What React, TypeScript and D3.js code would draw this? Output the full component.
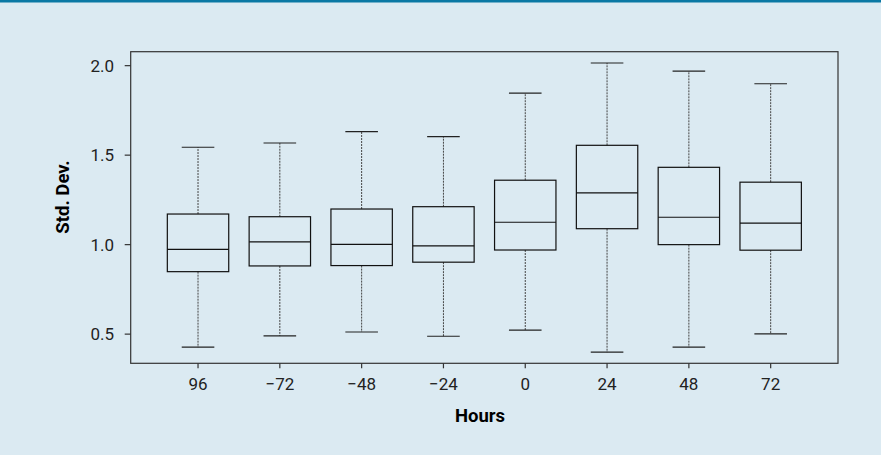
import React from "react";
import * as d3 from "d3";

const categories = ["96", "\u221272", "\u221248", "\u221224", "0", "24", "48", "72"];
const whiskerLow = [0.427, 0.49, 0.512, 0.488, 0.522, 0.399, 0.427, 0.501];
const q1 = [0.849, 0.881, 0.883, 0.902, 0.97, 1.089, 1.0, 0.969];
const median = [0.974, 1.015, 1.002, 0.993, 1.125, 1.289, 1.153, 1.12];
const q3 = [1.171, 1.156, 1.199, 1.212, 1.36, 1.555, 1.432, 1.349];
const whiskerHigh = [1.544, 1.568, 1.631, 1.603, 1.847, 2.015, 1.97, 1.899];
const yTicks = [0.5, 1.0, 1.5, 2.0];

const W = 881;
const H = 455;
const left = 130.7;
const right = 838;
const top = 51.7;
const bottom = 363.3;
const FONT = "Roboto, 'Open Sans', sans-serif";

export default function App() {
  const x = d3.scalePoint<string>().domain(categories).range([left, right]).padding(0.823);
  const y = d3.scaleLinear().domain([0.337, 2.078]).range([bottom, top]);
  const boxW = 61.4;
  const capW = 32.6;
  const data = categories.map((c, i) => ({
    c,
    lo: whiskerLow[i],
    q1: q1[i],
    med: median[i],
    q3: q3[i],
    hi: whiskerHigh[i],
  }));
  return (
    <svg width={W} height={H} style={{ position: "absolute", left: 0, top: 0, display: "block" }}>
      <rect x={0} y={0} width={W} height={H} fill="#dbeaf2" />
      <rect x={0} y={0} width={W} height={2.5} fill="#0a78a4" />
      {data.map((d) => {
        const cx = x(d.c)!;
        return (
          <g key={d.c}>
            <line x1={cx} x2={cx} y1={y(d.q3)} y2={y(d.hi)} stroke="#444" strokeWidth={1} strokeDasharray="2,1" />
            <line x1={cx} x2={cx} y1={y(d.q1)} y2={y(d.lo)} stroke="#444" strokeWidth={1} strokeDasharray="2,1" />
            <line x1={cx - capW / 2} x2={cx + capW / 2} y1={y(d.hi)} y2={y(d.hi)} stroke="#222" strokeWidth={1.2} />
            <line x1={cx - capW / 2} x2={cx + capW / 2} y1={y(d.lo)} y2={y(d.lo)} stroke="#222" strokeWidth={1.2} />
            <rect x={cx - boxW / 2} y={y(d.q3)} width={boxW} height={y(d.q1) - y(d.q3)} fill="none" stroke="#111" strokeWidth={1.2} />
            <line x1={cx - boxW / 2} x2={cx + boxW / 2} y1={y(d.med)} y2={y(d.med)} stroke="#111" strokeWidth={1.2} />
          </g>
        );
      })}
      <rect x={left} y={top} width={right - left} height={bottom - top} fill="none" stroke="#333" strokeWidth={1.2} />
      {yTicks.map((t) => (
        <g key={t}>
          <line x1={left - 6} x2={left} y1={y(t)} y2={y(t)} stroke="#333" strokeWidth={1.2} />
          <text x={114} y={y(t)} dy="0.36em" textAnchor="end" fontFamily={FONT} fontSize={17} fill="#222">
            {t.toFixed(1)}
          </text>
        </g>
      ))}
      {categories.map((c) => (
        <g key={c}>
          <line x1={x(c)!} x2={x(c)!} y1={bottom} y2={bottom + 5} stroke="#333" strokeWidth={1.2} />
          <text x={x(c)!} y={384} dy="0.36em" textAnchor="middle" fontFamily={FONT} fontSize={17} fill="#222">
            {c}
          </text>
        </g>
      ))}
      <text x={480} y={421.5} textAnchor="middle" fontFamily={FONT} fontSize={18.5} fontWeight="bold" fill="#000">
        Hours
      </text>
      <text
        transform={`translate(69, 197) rotate(-90)`}
        textAnchor="middle"
        fontFamily={FONT}
        fontSize={18.5}
        fontWeight="bold"
        fill="#000"
      >
        Std. Dev.
      </text>
    </svg>
  );
}
